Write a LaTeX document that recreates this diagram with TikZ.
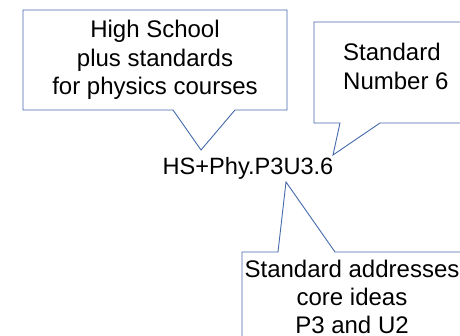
\documentclass[tikz,border=0pt]{standalone}
\usepackage{fontspec}
\setmainfont{Liberation Sans}
\usetikzlibrary{positioning}
\definecolor{calloutblue}{RGB}{68,106,172}

\begin{document}
\begin{tikzpicture}[x=1pt,y=-1pt,
      callout/.style={draw=calloutblue,line width=0.9pt,line join=miter},
      every node/.style={align=center,inner sep=0pt,font=\fontsize{24}{28.3}\selectfont}]
  \clip (0,0) rectangle (460,336);
  \node (code) [font=\fontsize{23.6}{27}\selectfont] at (248,168) {HS+Phy.P3U3.6};
  \coordinate (tipA) at (201,150);
  \coordinate (tipB) at (333,155);
  \coordinate (tipC) at (286,182);
  % callout boxes
  \draw[callout] (173,110) -- (23,110) -- (23,10) -- (287,10) -- (287,110) -- (235,110) -- (tipA) -- cycle;
  \draw[callout] (340,123) -- (314,123) -- (314,22) -- (470,22) -- (470,123) -- (380,123) -- (tipB) -- cycle;
  \draw[callout] (278,252) -- (242,252) -- (242,345) -- (470,345) -- (470,252) -- (335,252) -- (tipC) -- cycle;
  % callout texts
  \node (school) at (155,60) {High School\\plus standards\\for physics courses};
  \node (number) [anchor=west,align=left] at (343,66.5) {Standard\\Number 6};
  \node (ideas) at (352,297) {Standard addresses\\core ideas\\P3 and U2};
\end{tikzpicture}
\end{document}
